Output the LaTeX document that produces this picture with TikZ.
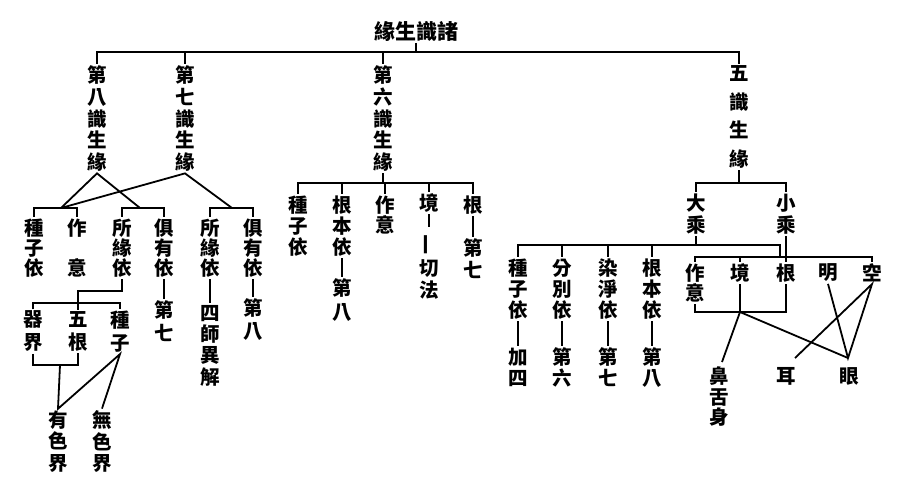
\documentclass[tikz,border=0pt]{standalone}
\usepackage{fontspec}
\newfontfamily\cjk{Noto Sans CJK TC}
\begin{document}
\begin{tikzpicture}[x=1pt,y=-1pt,line width=1.8pt]
\tikzset{
  vt/.style={align=center, inner sep=1pt, font=\cjk\bfseries\fontsize{19.5}{#1}\selectfont},
  vt/.default=22,
}
\useasboundingbox (0,0) rectangle (900,480);
% root and first level
\node[inner sep=1pt, font=\cjk\bfseries\fontsize{21}{24}\selectfont] (root) at (416,31) {緣生識諸};
\node[vt=21.8] (c8) at (97,118.5) {第\\八\\識\\生\\緣};
\node[vt=21.8] (c7) at (185,118.5) {第\\七\\識\\生\\緣};
\node[vt=21.8] (c6) at (383,118.5) {第\\六\\識\\生\\緣};
\node[vt=28.7] (c5) at (739,117) {五\\識\\生\\緣};
\coordinate (tb) at (0,52);
\draw (root.south) -- (root.south |- tb);
\draw (c8.north) -- (c8.north |- tb) -- (c5.north |- tb) -- (c5.north);
\draw (c7.north) -- (c7.north |- tb);
\draw (c6.north) -- (c6.north |- tb);
% left part
\node[vt=20] (a1) at (34,248) {種\\子\\依};
\node[vt=40] (a2) at (77,248) {作\\意};
\node[vt=20] (a3) at (122,248) {所\\緣\\依};
\node[vt=20] (a4) at (164,248) {俱\\有\\依};
\node[vt=23] (a4b) at (164,321.5) {第\\七};
\node[vt=20] (a5) at (210,248) {所\\緣\\依};
\node[vt=21.3] (a5b) at (210,345.5) {四\\師\\異\\解};
\node[vt=20] (a6) at (253,248) {俱\\有\\依};
\node[vt=23] (a6b) at (253,320) {第\\八};
\coordinate (lb) at (0,208);
\draw (a1.north) -- (a1.north |- lb) -- (a2.north |- lb) -- (a2.north);
\draw (a3.north) -- (a3.north |- lb) -- (a4.north |- lb) -- (a4.north);
\draw (a5.north) -- (a5.north |- lb) -- (a6.north |- lb) -- (a6.north);
\coordinate (pA) at (61,208);
\coordinate (pB) at (140,208);
\coordinate (pC) at (232,208);
\draw (pA) -- (c8.south) -- (pB);
\draw (pA) -- (c7.south) -- (pC);
\draw (a4.south) -- (a4b.north);
\draw (a5.south) -- (a5b.north);
\draw (a6.south) -- (a6b.north);
\node[vt=23] (d1) at (33,331.5) {器\\界};
\node[vt=23] (d2) at (78,331.5) {五\\根};
\node[vt=23] (d3) at (120,331.5) {種\\子};
\coordinate (dB) at (0,303);
\draw (a3.south) -- ++(0,12) -| (d2.north |- dB);
\draw (d1.north) -- (d1.north |- dB) -- (d3.north |- dB) -- (d3.north);
\draw (d2.north) -- (d2.north |- dB);
\coordinate (uB) at (0,365);
\draw (d1.south) -- (d1.south |- uB) -- (d2.south |- uB) -- (d2.south);
\node[vt=21.5] (e1) at (58,441.5) {有\\色\\界};
\node[vt=21.5] (e2) at (102,441.5) {無\\色\\界};
\coordinate (m0) at (60,365);
\draw (m0) -- (e1.north) -- (d3.south) -- (e2.north);
% middle part
\coordinate (mb) at (0,183);
\node[vt=21] (m1) at (298,226) {種\\子\\依};
\node[vt=21] (m2) at (342,226) {根\\本\\依};
\node[vt=24] (m2b) at (342,300) {第\\八};
\node[vt=20] (m3) at (385,215) {作\\意};
\node[vt] (m4) at (429,203) {境};
\node[vt, rotate=90] (yi) at (429,245) {一};
\node[vt=22] (m4b) at (429,279) {切\\法};
\node[vt] (m5) at (473,205) {根};
\node[vt=22] (m5b) at (473,259) {第\\七};
\draw (c6.south) -- (c6.south |- mb);
\draw (m1.north) -- (m1.north |- mb) -- (m5.north |- mb) -- (m5.north);
\draw (m2.north) -- (m2.north |- mb);
\draw (m3.north) -- (m3.north |- mb);
\draw (m4.north) -- (m4.north |- mb);
\draw (m2.south) -- (m2b.north);
\draw (m4.south) -- ([yshift=6pt]yi.east);
\draw (m5.south) -- (m5b.north);
% right part
\draw (c5.south) -- (c5.south |- mb);
\node[vt=22] (r1) at (696,214) {大\\乘};
\node[vt=22] (r2) at (786,214) {小\\乘};
\draw (r1.north) -- (r1.north |- mb) -- (r2.north |- mb) -- (r2.north);
\coordinate (bb) at (0,245);
\coordinate (sb) at (0,257);
\coordinate (bR) at (780,245);
\node[vt=21] (s1) at (518,289) {種\\子\\依};
\node[vt=21] (s2) at (562,289) {分\\別\\依};
\node[vt=21] (s3) at (608,289) {染\\淨\\依};
\node[vt=21] (s4) at (652,289) {根\\本\\依};
\node[vt=21] (s1b) at (518,367.5) {加\\四};
\node[vt=21] (s2b) at (562,367.5) {第\\六};
\node[vt=21] (s3b) at (608,367.5) {第\\七};
\node[vt=21] (s4b) at (652,367.5) {第\\八};
\draw (r1.south) -- (r1.south |- bb);
\draw (s1.north) -- (s1.north |- bb) -- (bR) -- (bR |- sb);
\draw (s2.north) -- (s2.north |- bb);
\draw (s3.north) -- (s3.north |- bb);
\draw (s4.north) -- (s4.north |- bb);
\draw (s1.south) -- (s1b.north);
\draw (s2.south) -- (s2b.north);
\draw (s3.south) -- (s3b.north);
\draw (s4.south) -- (s4b.north);
\node[vt=20] (t1) at (695,283) {作\\意};
\node[vt] (t2) at (740,273) {境};
\node[vt] (t3) at (786,273) {根};
\node[vt] (t4) at (828,273) {明};
\node[vt] (t5) at (872,273) {空};
\draw (t1.north) -- (t1.north |- sb) -- (t5.north |- sb) -- (t5.north);
\draw (t2.north) -- (t2.north |- sb);
\draw (r2.south) -- (t3.north);
\coordinate (ub2) at (0,312);
\draw (t1.south) -- (t1.south |- ub2) -- (t3.south |- ub2) -- (t3.south);
\coordinate (j) at (740,312);
\draw (t2.south) -- (j);
\node[vt=20.5] (u1) at (719,397) {鼻\\舌\\身};
\node[vt] (u2) at (786,376) {耳};
\node[vt] (u3) at (849,376) {眼};
\coordinate (nose) at (722,362);
\coordinate (yan) at (848,358);
\coordinate (er) at (795,358);
\draw (j) -- (nose);
\draw (j) -- (yan);
\draw (t4.south) -- (yan) -- (t5.south) -- (er);
\end{tikzpicture}
\end{document}
